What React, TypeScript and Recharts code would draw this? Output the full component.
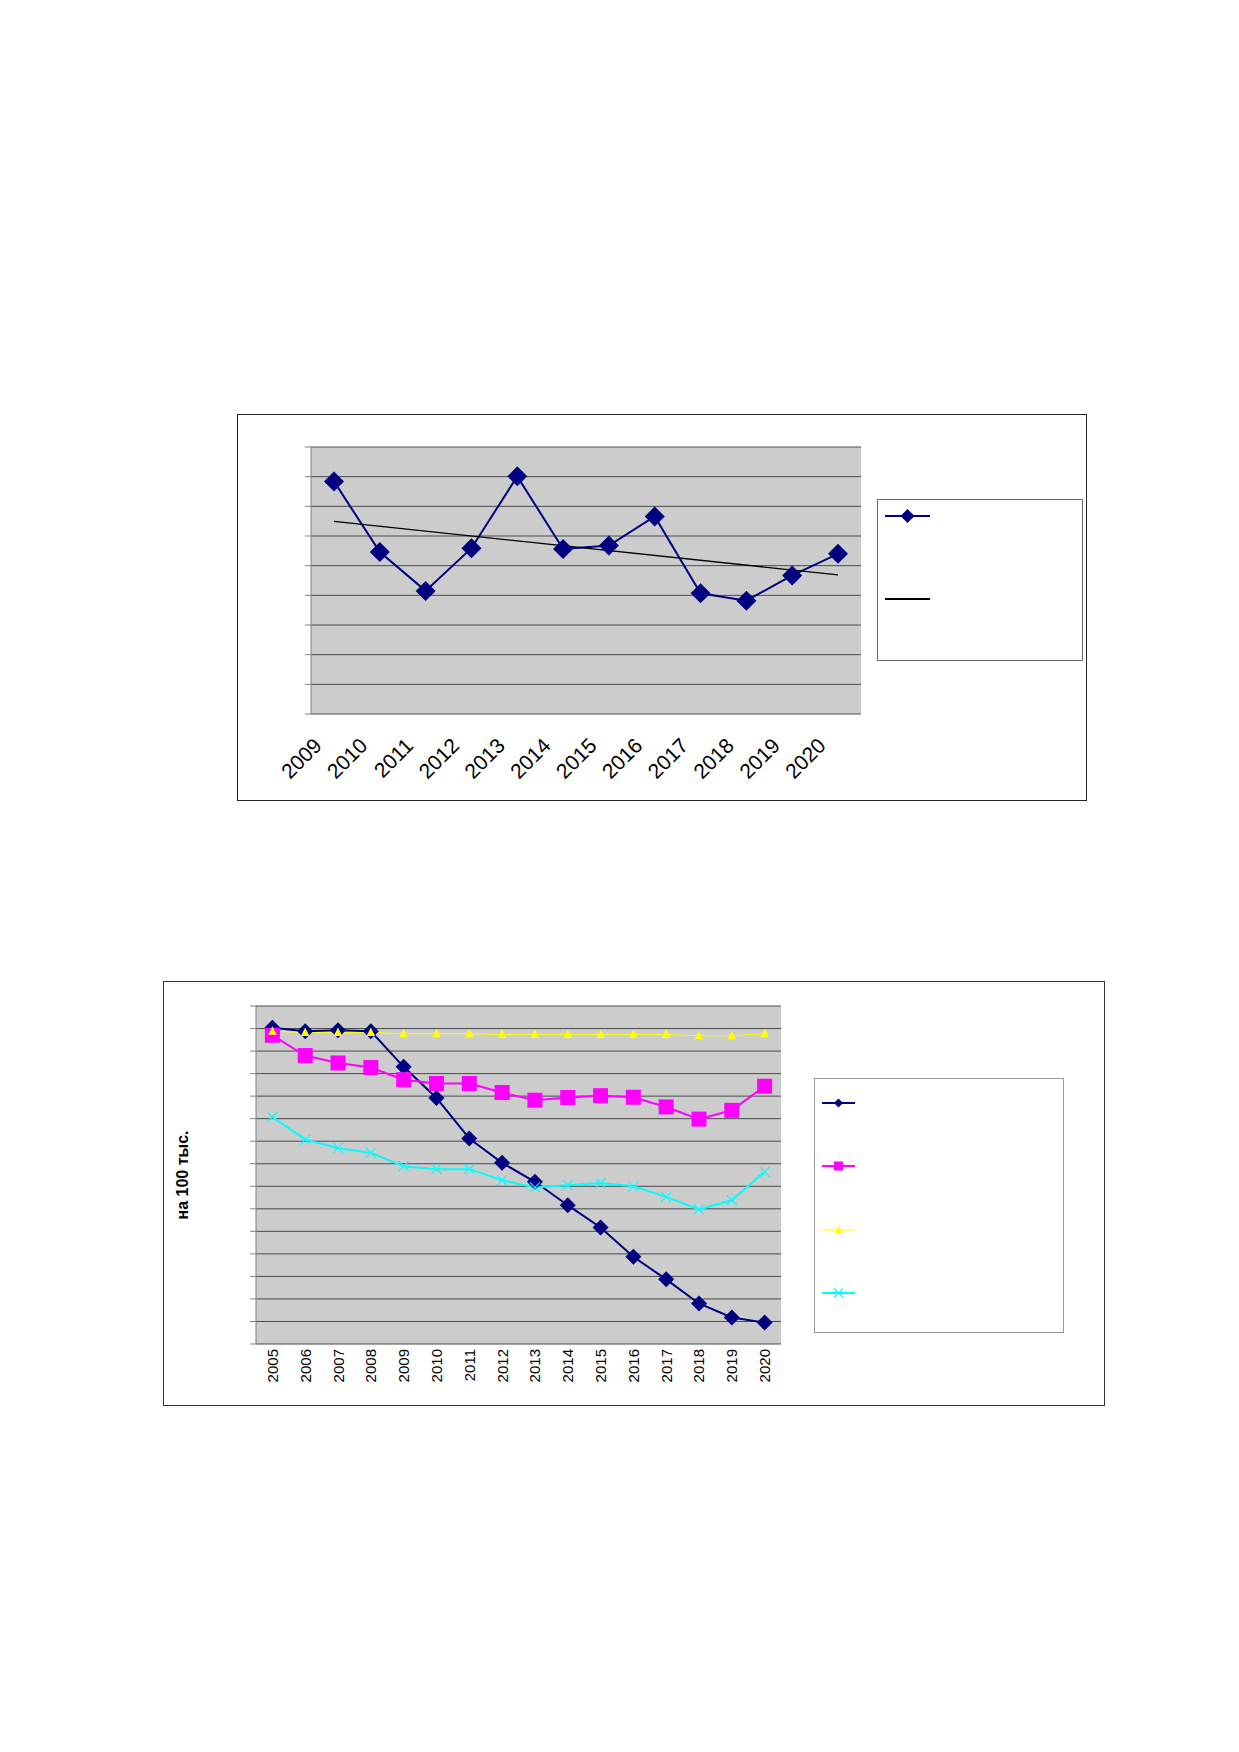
import React from "react";
import { LineChart, Line, XAxis, YAxis, CartesianGrid, Legend } from "recharts";

// ---- chart 1 (2009-2020, with trend) ----
const years1 = ["2009", "2010", "2011", "2012", "2013", "2014", "2015", "2016", "2017", "2018", "2019", "2020"];
const values1 = [7.84, 5.46, 4.15, 5.59, 8.01, 5.56, 5.68, 6.66, 4.07, 3.82, 4.67, 5.4];
const trend1 = [6.49, null, null, null, null, null, null, null, null, null, null, 4.69];
const yTicks1 = [0, 1, 2, 3, 4, 5, 6, 7, 8, 9];
const edges1 = [0, 1, 2, 3, 4, 5, 6, 7, 8, 9, 10, 11, 12];

// ---- chart 2 (2005-2020, four series) ----
const years2 = ["2005", "2006", "2007", "2008", "2009", "2010", "2011", "2012", "2013", "2014", "2015", "2016", "2017", "2018", "2019", "2020"];
const navy2 = [14.04, 13.88, 13.92, 13.88, 12.3, 10.92, 9.12, 8.04, 7.2, 6.16, 5.17, 3.87, 2.87, 1.8, 1.18, 0.95];
const pink2 = [13.7, 12.8, 12.47, 12.27, 11.73, 11.56, 11.56, 11.16, 10.82, 10.94, 11.02, 10.95, 10.52, 9.98, 10.37, 11.44];
const yellow2 = [13.88, 13.82, 13.82, 13.82, 13.77, 13.77, 13.77, 13.73, 13.73, 13.73, 13.73, 13.73, 13.73, 13.68, 13.68, 13.77];
const cyan2 = [10.08, 9.07, 8.7, 8.48, 7.89, 7.76, 7.76, 7.27, 6.95, 7.05, 7.15, 7.0, 6.53, 5.97, 6.38, 7.64];
const yTicks2 = [0, 1, 2, 3, 4, 5, 6, 7, 8, 9, 10, 11, 12, 13, 14, 15];
const edges2 = [0, 1, 2, 3, 4, 5, 6, 7, 8, 9, 10, 11, 12, 13, 14, 15, 16];
const yLabel2 = "на 100 тыс.";

const data1 = years1.map((year, i) => ({ year, value: values1[i], trend: trend1[i] }));
const data2 = years2.map((year, i) => ({
  year,
  navy: navy2[i],
  pink: pink2[i],
  yellow: yellow2[i],
  cyan: cyan2[i],
}));

const FONT = "'Liberation Sans', Arial, sans-serif";
const NAVY = "#000080";
const PINK = "#ff00ff";
const YELLOW = "#ffff00";
const CYAN = "#00ffff";

type MarkerKind = "diamond" | "square" | "triangle" | "cross" | "none";

const Marker = ({ kind, cx, cy, r, color }: { kind: MarkerKind; cx: number; cy: number; r: number; color: string }) => {
  if (kind === "diamond")
    return <path d={`M${cx} ${cy - r}L${cx + r} ${cy}L${cx} ${cy + r}L${cx - r} ${cy}Z`} fill={color} />;
  if (kind === "square") return <rect x={cx - r} y={cy - r} width={r * 2} height={r * 2} fill={color} />;
  if (kind === "triangle")
    return <path d={`M${cx} ${cy - r}L${cx + r * 0.85} ${cy + r * 0.7}L${cx - r * 0.85} ${cy + r * 0.7}Z`} fill={color} />;
  if (kind === "cross")
    return (
      <g stroke={color} strokeWidth={1.1}>
        <line x1={cx - r} y1={cy - r} x2={cx + r} y2={cy + r} />
        <line x1={cx - r} y1={cy + r} x2={cx + r} y2={cy - r} />
      </g>
    );
  return null;
};

const dotOf = (kind: MarkerKind, r: number, color: string) => (p: any) =>
  p.cx == null || p.cy == null ? (
    <g key={p.index} />
  ) : (
    <Marker key={p.index} kind={kind} cx={p.cx} cy={p.cy} r={r} color={color} />
  );

// axis ticks without labels: tick lines stay, text is dropped
const NoLabel = () => <g />;

const LegendBox = ({ payload, markers, width, height, firstY, gap, lineX, lineW, markR, border }: any) => (
  <div
    style={{
      width,
      height,
      border: `1px solid ${border}`,
      boxSizing: "border-box",
      background: "#fff",
      position: "relative",
    }}
  >
    {(payload || []).map((e: any, i: number) => (
      <svg
        key={i}
        width={lineW}
        height={20}
        style={{ position: "absolute", left: lineX, top: firstY + i * gap - 10 }}
      >
        <line x1={0} x2={lineW} y1={10} y2={10} stroke={e.color} strokeWidth={e.dataKey === "yellow" ? 1 : 2} />
        <Marker kind={markers[e.dataKey] || "none"} cx={lineW / 2} cy={10} r={markR} color={e.color} />
      </svg>
    ))}
  </div>
);

const SlantTick = ({ x, y, payload }: any) => {
  const tx = x - 11;
  const ty = y + 33;
  return (
    <text x={tx} y={ty} transform={`rotate(-45 ${tx} ${ty})`} textAnchor="end" fontSize={21} fontFamily={FONT} fill="#000">
      {payload.value}
    </text>
  );
};

const UpTick = ({ x, y, payload }: any) => {
  const tx = x + 5.5;
  const ty = y + 5;
  return (
    <text x={tx} y={ty} transform={`rotate(-90 ${tx} ${ty})`} textAnchor="end" fontSize={15} fontFamily={FONT} fill="#000">
      {payload.value}
    </text>
  );
};

const SideLabel = ({ viewBox }: any) => {
  if (!viewBox) return null;
  const tx = viewBox.x + 24;
  const ty = viewBox.y + viewBox.height / 2;
  return (
    <text x={tx} y={ty} transform={`rotate(-90 ${tx} ${ty})`} textAnchor="middle" fontSize={16} fontWeight="bold" fontFamily={FONT} fill="#000">
      {yLabel2}
    </text>
  );
};

const TrendChart = () => (
  <LineChart width={848} height={385} data={data1} margin={{ top: 32, right: 225, left: 0, bottom: 0 }}>
    <CartesianGrid xAxisId="cat" vertical={false} fill="#cccccc" fillOpacity={1} stroke="#4a4a4a" />
    <XAxis xAxisId="grid" type="number" domain={[0, 12]} ticks={edges1} tick={NoLabel} tickSize={7} height={0} stroke="#808080" allowDataOverflow />
    <XAxis
      xAxisId="cat"
      dataKey="year"
      height={86}
      interval={0}
      axisLine={false}
      tickLine={false}
      tickSize={0}
      tickMargin={0}
      padding={{ left: 23, right: 23 }}
      tick={<SlantTick />}
    />
    <YAxis domain={[0, 9]} ticks={yTicks1} interval={0} tick={NoLabel} tickSize={6} width={73} stroke="#808080" />
    <Legend
      layout="vertical"
      align="center"
      verticalAlign="middle"
      width={206}
      height={162}
      wrapperStyle={{ left: 639, top: 84, width: 206, height: 162 }}
      content={(props: any) => (
        <LegendBox
          payload={props.payload}
          markers={{ value: "diamond", trend: "none" }}
          width={206}
          height={162}
          firstY={16}
          gap={83}
          lineX={7}
          lineW={45}
          markR={7}
          border="#666"
        />
      )}
    />
    <Line
      xAxisId="cat"
      dataKey="value"
      name=" "
      stroke={NAVY}
      strokeWidth={2}
      dot={dotOf("diamond", 10, NAVY)}
      isAnimationActive={false}
    />
    <Line
      xAxisId="cat"
      dataKey="trend"
      name=" "
      stroke="#000"
      strokeWidth={1.3}
      dot={false}
      connectNulls
      isAnimationActive={false}
    />
  </LineChart>
);

const RateChart = () => (
  <LineChart width={940} height={423} data={data2} margin={{ top: 24, right: 323, left: 0, bottom: 0 }}>
    <CartesianGrid xAxisId="cat" vertical={false} fill="#cccccc" fillOpacity={1} stroke="#4a4a4a" />
    <XAxis xAxisId="grid" type="number" domain={[0, 16]} ticks={edges2} tick={NoLabel} tickSize={5} height={0} stroke="#808080" allowDataOverflow />
    <XAxis
      xAxisId="cat"
      dataKey="year"
      height={61}
      interval={0}
      axisLine={false}
      tickLine={false}
      tickSize={0}
      tickMargin={0}
      padding={{ left: 16.4, right: 16.4 }}
      tick={<UpTick />}
    />
    <YAxis domain={[0, 15]} ticks={yTicks2} interval={0} tick={NoLabel} tickSize={6} width={92} stroke="#808080" label={<SideLabel />} />
    <Legend
      layout="vertical"
      align="center"
      verticalAlign="middle"
      width={250}
      height={255}
      wrapperStyle={{ left: 650, top: 96, width: 250, height: 255 }}
      content={(props: any) => (
        <LegendBox
          payload={props.payload}
          markers={{ navy: "diamond", pink: "square", yellow: "triangle", cyan: "cross" }}
          width={250}
          height={255}
          firstY={24}
          gap={63.3}
          lineX={7}
          lineW={33}
          markR={4.5}
          border="#999"
        />
      )}
    />
    <Line xAxisId="cat" dataKey="navy" name=" " stroke={NAVY} strokeWidth={2} dot={dotOf("diamond", 8, NAVY)} isAnimationActive={false} />
    <Line xAxisId="cat" dataKey="pink" name=" " stroke={PINK} strokeWidth={2} dot={dotOf("square", 7.5, PINK)} isAnimationActive={false} />
    <Line xAxisId="cat" dataKey="yellow" name=" " stroke={YELLOW} strokeWidth={1} dot={dotOf("triangle", 5, YELLOW)} isAnimationActive={false} />
    <Line xAxisId="cat" dataKey="cyan" name=" " stroke={CYAN} strokeWidth={2} dot={dotOf("cross", 5, CYAN)} isAnimationActive={false} />
  </LineChart>
);

export default function App() {
  return (
    <div style={{ position: "absolute", left: 0, top: 0, width: 1239, height: 1752, background: "#fff", fontFamily: FONT }}>
      <div
        style={{
          position: "absolute",
          left: 237,
          top: 414,
          width: 850,
          height: 387,
          border: "1px solid #222",
          boxSizing: "border-box",
        }}
      >
        <TrendChart />
      </div>
      <div
        style={{
          position: "absolute",
          left: 163,
          top: 981,
          width: 942,
          height: 425,
          border: "1px solid #333",
          boxSizing: "border-box",
        }}
      >
        <RateChart />
      </div>
    </div>
  );
}
